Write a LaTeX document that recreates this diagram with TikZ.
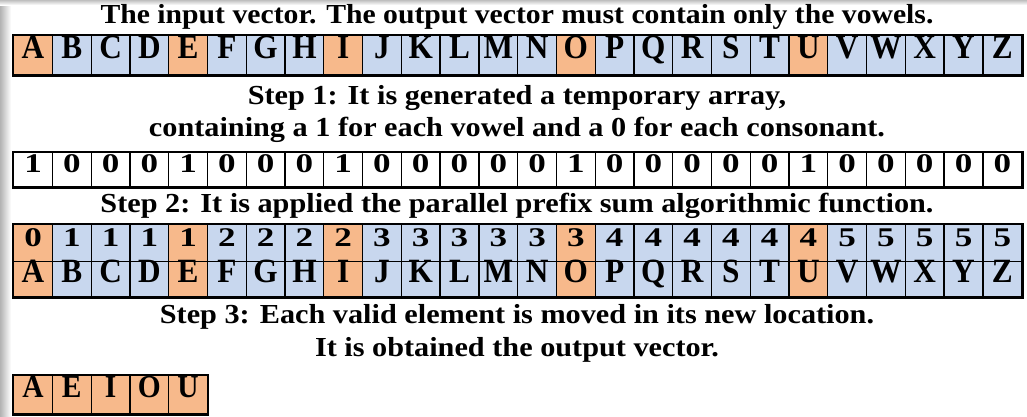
\documentclass[tikz,border=0pt]{standalone}
\usepackage{graphicx}
\usepackage{fontspec}
\setmainfont{Liberation Serif}
\definecolor{vow}{HTML}{F7B98B}
\definecolor{con}{HTML}{C8D7EE}
\newcommand{\lt}[1]{\scalebox{0.92}[1]{#1}}
\newcommand{\dg}[1]{\scalebox{1.3}[1]{#1}}
\newcommand{\cp}[2][1.12]{\scalebox{#1}[1]{#2}}
\begin{document}
\begin{tikzpicture}[x=1pt,y=-1pt,
  cell/.style={draw=black,line width=1.3pt,minimum width=38.77pt,inner sep=0pt,
    anchor=north west,text height=0.66em,text depth=0pt,
    font=\bfseries\fontsize{34}{34}\selectfont},
  lettercell/.style={cell,minimum height=39pt},
  digitcell/.style={cell,minimum height=34pt,font=\bfseries\fontsize{27}{27}\selectfont},
  sumcell/.style={cell,minimum height=37pt,font=\bfseries\fontsize{27}{27}\selectfont},
  botcell/.style={cell,minimum height=35pt},
  outcell/.style={cell,minimum height=38pt,font=\bfseries\fontsize{32}{32}\selectfont},
  outer/.style={draw=black,line width=2.6pt},
  caption/.style={font=\bfseries\fontsize{27.5}{27.5}\selectfont,inner sep=0pt}]
\useasboundingbox (0,0) rectangle (1027,416);
\fill[white] (0,0) rectangle (1027,416);
% frame shadow
\shade[left color=black!30,right color=white] (0,0) rectangle (11,416);
\shade[top color=black!25,bottom color=white] (0,0) rectangle (1027,5);
% captions
\node[caption] (title) at (517,17) {\cp[1.08]{The input vector. The output vector must contain only the vowels.}};
\node[caption] (s1a) at (517,98) {\cp[1.1]{Step 1: It is generated a temporary array,}};
\node[caption] (s1b) at (517,130) {\cp[1.1]{containing a 1 for each vowel and a 0 for each consonant.}};
\node[caption] (s2) at (517,206) {\cp[1.1]{Step 2: It is applied the parallel prefix sum algorithmic function.}};
\node[caption] (s3a) at (517,317) {\cp[1.1]{Step 3: Each valid element is moved in its new location.}};
\node[caption] (s3b) at (517,350) {\cp[1.1]{It is obtained the output vector.}};
% row 1: input vector
\foreach \l/\c [count=\i] in {A/vow,B/con,C/con,D/con,E/vow,F/con,G/con,H/con,I/vow,J/con,K/con,L/con,M/con,N/con,O/vow,P/con,Q/con,R/con,S/con,T/con,U/vow,V/con,W/con,X/con,Y/con,Z/con}
  \node[lettercell,fill=\c] (in\i) at ({13+(\i-1)*38.77},35) {\lt{\l}};
\draw[outer] (in1.north west) rectangle (in26.south east);
% row 2: flags
\foreach \d [count=\i] in {1,0,0,0,1,0,0,0,1,0,0,0,0,0,1,0,0,0,0,0,1,0,0,0,0,0}
  \node[digitcell,fill=white] (fl\i) at ({13+(\i-1)*38.77},152) {\dg{\d}};
\draw[outer] (fl1.north west) rectangle (fl26.south east);
% row 3: prefix sum
\foreach \d/\c [count=\i] in {0/vow,1/con,1/con,1/con,1/vow,2/con,2/con,2/con,2/vow,3/con,3/con,3/con,3/con,3/con,3/vow,4/con,4/con,4/con,4/con,4/con,4/vow,5/con,5/con,5/con,5/con,5/con}
  \node[sumcell,fill=\c] (ps\i) at ({13+(\i-1)*38.77},224) {\dg{\d}};
% row 4: letters again
\foreach \l/\c [count=\i] in {A/vow,B/con,C/con,D/con,E/vow,F/con,G/con,H/con,I/vow,J/con,K/con,L/con,M/con,N/con,O/vow,P/con,Q/con,R/con,S/con,T/con,U/vow,V/con,W/con,X/con,Y/con,Z/con}
  \node[botcell,fill=\c] (lb\i) at ({13+(\i-1)*38.77},261) {\lt{\l}};
\draw[outer] (ps1.north west) rectangle (lb26.south east);
% output vector
\foreach \l [count=\i] in {A,E,I,O,U}
  \node[outcell,fill=vow] (out\i) at ({13+(\i-1)*38.77},375) {\lt{\l}};
\draw[outer] (out1.north west) rectangle (out5.south east);
\end{tikzpicture}
\end{document}
